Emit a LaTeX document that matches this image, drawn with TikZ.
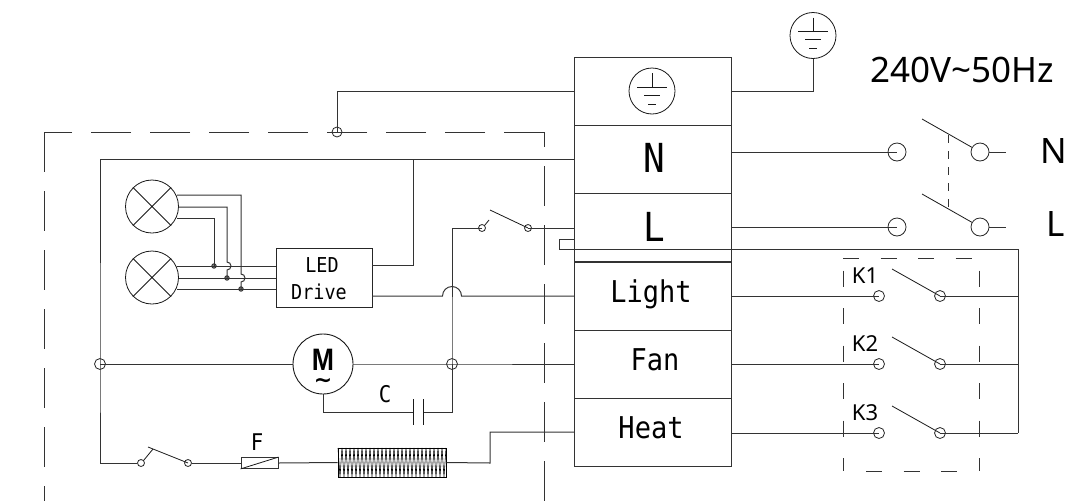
\documentclass[tikz,border=0pt]{standalone}
\usepackage{fontspec}
\setmainfont{Noto Sans}
\newfontfamily\monofam[FakeStretch=0.9]{DejaVu Sans Mono}
\newfontfamily\motorfam[FakeStretch=0.86]{Liberation Sans}
\newfontfamily\dejafam{DejaVu Sans}
\begin{document}
\begin{tikzpicture}[x=1pt,y=-1pt,
  wire/.style={draw=black!80,line width=1pt},
  cell/.style={draw=black!80,line width=1pt,minimum width=157pt,minimum height=68pt,inner sep=0pt,outer sep=0pt},
  celltxt/.style={anchor=base,inner sep=0pt,font=\monofam\fontsize{30}{30}\selectfont},
  bigtxt/.style={anchor=base,inner sep=0pt,font=\monofam\fontsize{40}{40}\selectfont},
  ledtxt/.style={anchor=base,inner sep=0pt,font=\monofam\fontsize{20.5}{20.5}\selectfont},
  parttxt/.style={anchor=base,inner sep=0pt,font=\monofam\fontsize{23}{23}\selectfont},
  mains/.style={anchor=base,inner sep=0pt,font=\fontsize{35}{35}\selectfont},
  ktxt/.style={anchor=base,inner sep=0pt,font=\fontsize{22}{22}\selectfont},
  dashline/.style={draw=black!80,line width=1pt,dash pattern=on 40pt off 19pt},
  kdash/.style={draw=black!80,line width=1pt,dash pattern=on 16pt off 21.5pt},
  bigT/.style={circle,draw=black!85,line width=.8pt,minimum size=18pt,inner sep=0pt},
  smallT/.style={circle,draw=black!85,line width=.8pt,minimum size=11pt,inner sep=0pt},
  tinyT/.style={circle,draw=black!85,line width=.8pt,minimum size=7pt,inner sep=0pt},
  dotT/.style={circle,draw=black!85,fill=black!50,line width=.8pt,minimum size=4.5pt,inner sep=0pt},
  lamp/.style={circle,draw=black!90,line width=.8pt,minimum size=53pt,inner sep=0pt},
  earth/.style={circle,draw=black!90,line width=.8pt,minimum size=46pt,inner sep=0pt},
  blade/.style={draw=black!90,line width=.8pt}]
\useasboundingbox (0,0) rectangle (1067,501);
\fill[white] (0,0) rectangle (1067,501);
% terminal block
\node[cell] (pe) at (652.5,91) {};
\node[cell] (cN) at (652.5,159) {};
\node[cell] (cL) at (652.5,227) {};
\node[cell] (cLight) at (652.5,296) {};
\node[cell] (cFan) at (652.5,364) {};
\node[cell] (cHeat) at (652.5,432) {};
\node[bigtxt] (tN1) at (654,172) {N};
\node[bigtxt] (tL1) at (654,241) {L};
\node[celltxt] (tLight) at (651,302) {Light};
\node[celltxt] (tFan) at (655,370) {Fan};
\node[celltxt] (tHeat) at (651,438) {Heat};
% earth symbols
\newcommand{\earthmark}[1]{%
  \draw[blade] (#1)+(0,-18)--+(0,-4) (#1)+(-15,-4)--+(15,-4) (#1)+(-8,4)--+(8,4) (#1)+(-4,13)--+(4,13);}
\node[earth] (e1) at (652,91) {};
\earthmark{e1.center}
\node[earth] (e2) at (813,35.5) {};
\earthmark{e2.center}
\draw[wire] (pe.east) -| (e2.south);
% earth link and dashed enclosure
\node[smallT,minimum size=10pt] (pe2) at (337,132) {};
\draw[wire] (pe.west) -| (pe2.center);
\coordinate (dTL) at (44.5,132);
\coordinate (dTR) at (544,132);
\coordinate (dBL) at (44.5,501);
\coordinate (dBR) at (544,501);
\draw[dashline] (dTR) -- (dTL);
\draw[dashline,dash phase=25pt] (dTR) -- (dBR);
\draw[dashline] (dTL) -- (dBL);
% left bus
\node[smallT] (jL) at (100,364) {};
\node[smallT] (jR) at (452,364) {};
\coordinate (busT) at (100,159);
\coordinate (busB) at (100,463);
\coordinate (nTap) at (413,159);
\draw[wire] (cN.west) -- (busT) -- (jL.center) -- (busB);
% lamps
\node[lamp] (l1) at (152,206.5) {};
\node[lamp] (l2) at (152,277.5) {};
\draw[blade] (l1.45)--(l1.225) (l1.135)--(l1.315) (l2.45)--(l2.225) (l2.135)--(l2.315);
\node[draw=black!85,line width=1pt,minimum width=96pt,minimum height=59pt,inner sep=0pt] (led) at (324,277.5) {};
\node[ledtxt] (tLED) at (322,272) {LED};
\node[ledtxt] (tDrive) at (319,299) {Drive};
\coordinate (a1) at (177,195);\coordinate (a2) at (178.5,207);\coordinate (a3) at (177,218);
\coordinate (b1) at (177,266);\coordinate (b2) at (178.5,278);\coordinate (b3) at (177,289);
\coordinate (c1) at (276,266);\coordinate (c2) at (276,278);\coordinate (c3) at (276,289);
\node[dotT] (d1) at (214,266) {};
\node[dotT] (d2) at (227,278) {};
\node[dotT] (d3) at (241,289) {};
\draw[wire] (b1)--(c1);\draw[wire] (b2)--(c2);\draw[wire] (b3)--(c3);
\draw[wire] (a3) -| (d1.center);
\draw[wire] (a2) -| (227,262) arc[start angle=90,end angle=-90,radius=4pt] -- (d2.center);
\draw[wire] (a1) -| (241,274) arc[start angle=90,end angle=-90,radius=4pt] -- (d3.center);
% LED outputs
\coordinate (ledN) at (372,265);
\coordinate (ledL) at (372,296);
\draw[wire] (ledN) -| (nTap);
\draw[wire] (ledL) -- (442.5,296) arc[start angle=180,end angle=0,radius=9.5pt] -- (cLight.west);
% L switch
\node[tinyT] (s1a) at (482,228) {};
\node[tinyT] (s1b) at (528,228) {};
\draw[wire] (cL.west |- s1b) -- (s1b.center);
\draw[wire] (s1a.center) -- (452,228) -- (jR.center) -- (452,409);
\draw[blade] (s1a.45) -- (489,220);
\draw[blade] (490,210) -- (s1b.center);
% U-shaped link
\coordinate (kRtop) at (1018,249);
\draw[wire] (574,239) -- (559,239) -- (559,249) -- (kRtop);
% motor
\node[circle,draw=black!90,line width=.9pt,minimum size=60pt,inner sep=0pt] (mot) at (323,364) {};
\node[anchor=base,inner sep=0pt,font=\motorfam\bfseries\fontsize{31}{31}\selectfont] (tM) at (323,370) {M};
\node[anchor=base,inner sep=0pt,font=\dejafam\bfseries\fontsize{22}{22}\selectfont] (tTilde) at (323,387) {\char"7E};
\draw[wire] (jL.center) -- (mot.west);
\draw[wire] (mot.east) -- (jR.center) -- (cFan.west);
% capacitor
\coordinate (capA) at (413,412);
\coordinate (capB) at (423,412);
\draw[wire] (mot.south) |- (capA);
\draw[wire] (capB) -- (452,412) -- (452,364);
\draw[blade] (413,399)--(413,425) (423,399)--(423,425);
\node[parttxt] (tC) at (385,402) {C};
% heater branch
\node[tinyT] (s2a) at (141,463) {};
\node[tinyT] (s2b) at (188,463) {};
\draw[wire] (busB) -- (s2a.west);
\draw[blade] (s2a.45) -- (153,449);
\draw[blade] (148,447) -- (s2b.center);
\node[draw=black!80,line width=.8pt,minimum width=37pt,minimum height=11pt,inner sep=0pt] (fuse) at (259.5,463) {};
\draw[blade] (fuse.south west) -- (fuse.north east);
\draw[wire] (s2b.east) -- (fuse.west);
\node[parttxt] (tF) at (257,450) {F};
\node[draw=black,line width=.8pt,minimum width=108pt,minimum height=29pt,inner sep=0pt] (heat) at (392,462.5) {};
\foreach \i in {0,...,26}{
  \draw[black,line width=.6pt] ({338+\i*4},448) -- ({338+(\i+.5)*4},477) -- ({338+(\i+1)*4},448);
}
\draw[wire] (fuse.east) -- (heat.west);
\draw[wire] (heat.east) -- (490,463) |- (cHeat.west);
% mains
\node[bigT] (tN) at (897,152) {};
\node[bigT] (tNr) at (980,152) {};
\node[bigT] (tL) at (897,227) {};
\node[bigT] (tLr) at (980,227) {};
\coordinate (eN) at (1006,152);
\coordinate (eL) at (1006,227);
\draw[wire] (731,152) -- (tN.center);
\draw[wire] (731,227) -- (tL.center);
\draw[wire] (tNr.east) -- (eN);
\draw[wire] (tLr.east) -- (eL);
\draw[blade] (922,119) -- (tNr.150);
\draw[blade] (922,194) -- (tLr.150);
\draw[draw=black!80,line width=1pt,dash pattern=on 8pt off 8pt] (948,135) -- (948,209);
\node[mains] (tNm) at (1053.5,163) {N};
\node[mains] (tLm) at (1056,236) {L};
\node[mains] (tV) at (962,82) {240V\char"7E 50Hz};
% K switches
\foreach \n/\y in {1/296,2/364,3/433}{
  \node[smallT] (k\n a) at (879,\y) {};
  \node[smallT] (k\n b) at (940,\y) {};
  \draw[blade] (892,{\y-27}) -- (k\n b.center);
  \draw[wire] (k\n b.center) -- (1018,\y);
  \node[ktxt] (tK\n) at (865,{\y-13}) {K\n};
}
\draw[wire] (cLight.east) -- (k1a.center);
\draw[wire] (cFan.east) -- (k2a.center);
\draw[wire] (731,433) -- (k3a.center);
\draw[wire] (kRtop) -- (1018,433);
% K dashed box
\coordinate (kTR) at (975,258);
\coordinate (kBL) at (843,471);\coordinate (kBR) at (960,471);
\draw[kdash] (843,258) -- (kTR);
\draw[kdash] (843,270.5) -- (kBL);
\draw[kdash] (979,270.5) -- (979,471);
\draw[kdash] (866,471) -- (kBR);
\end{tikzpicture}
\end{document}
